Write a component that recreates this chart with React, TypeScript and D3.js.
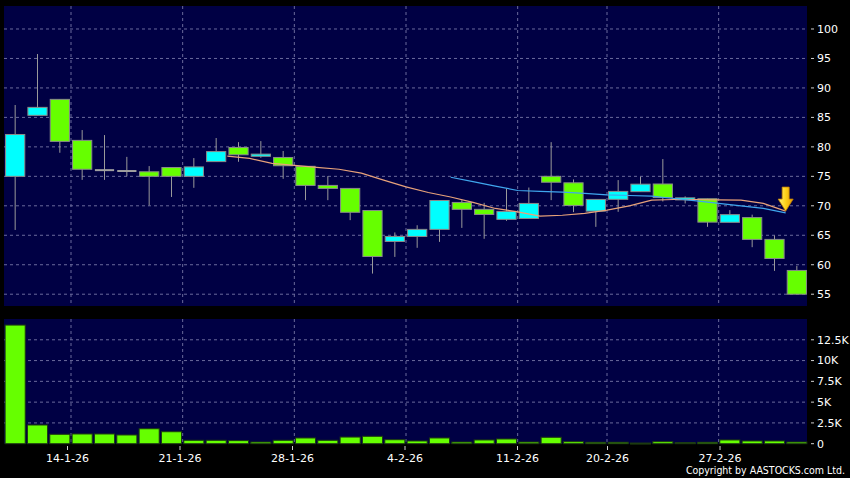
import React from "react";
import * as d3 from "d3";

const dates = ["9-1-26","12-1-26","13-1-26","14-1-26","15-1-26","16-1-26","19-1-26","20-1-26","21-1-26","22-1-26","23-1-26","26-1-26","27-1-26","28-1-26","29-1-26","30-1-26","2-2-26","3-2-26","4-2-26","5-2-26","6-2-26","9-2-26","10-2-26","11-2-26","12-2-26","13-2-26","16-2-26","20-2-26","23-2-26","24-2-26","25-2-26","26-2-26","27-2-26","2-3-26","3-3-26","4-3-26"];
const tickDates = ["14-1-26","21-1-26","28-1-26","4-2-26","11-2-26","20-2-26","27-2-26"];

const openV = [75.0, 85.35, 88.06, 81.1, 76.05, 75.9, 75.77, 76.5, 75.0, 77.5, 79.9, 78.4, 78.2, 76.7, 73.46, 72.95, 69.2, 63.95, 64.8, 66.0, 70.57, 69.4, 67.7, 67.85, 75.0, 73.9, 69.1, 71.1, 72.4, 73.7, 71.0, 71.2, 67.2, 68.0, 64.3, 59.03];
const closeV = [82.1, 86.7, 80.93, 76.2, 76.05, 75.9, 75.0, 75.0, 76.6, 79.2, 78.66, 78.77, 76.8, 73.46, 72.95, 68.9, 61.4, 64.8, 66.0, 70.9, 69.4, 68.53, 69.05, 70.4, 74.0, 70.06, 71.08, 72.44, 73.67, 71.4, 71.35, 67.23, 68.5, 64.3, 61.06, 55.0];
const highV = [87.1, 95.75, 88.06, 82.85, 82.0, 78.3, 76.74, 76.5, 78.1, 81.5, 80.8, 80.98, 79.3, 76.68, 75.04, 72.95, 69.2, 65.48, 66.7, 70.9, 70.96, 70.5, 72.95, 73.1, 80.8, 74.48, 71.08, 74.36, 74.92, 77.93, 71.6, 71.2, 69.27, 68.5, 64.96, 59.8];
const lowV = [65.9, 85.35, 79.0, 74.4, 74.4, 75.0, 70.06, 71.5, 73.05, 77.5, 77.47, 78.15, 74.58, 70.96, 70.96, 67.57, 58.5, 61.33, 62.87, 63.88, 66.25, 64.4, 67.45, 67.85, 70.96, 68.93, 66.43, 68.98, 72.4, 70.74, 70.4, 66.43, 67.2, 62.98, 58.96, 55.0];

// MA10 from index 9 to 34, MA20 from index 19 to 34
const ma10Start = 9;
const ma10 = [78.43, 78.04, 77.2, 76.86, 76.52, 76.2, 75.55, 74.36, 73.2, 72.26, 71.5, 70.57, 69.55, 68.98, 68.25, 68.4, 68.7, 69.27, 70.0, 70.96, 71.07, 71.07, 71.0, 70.96, 70.4, 69.1];
const ma20Start = 19;
const ma20 = [74.85, 74.1, 73.34, 72.6, 72.45, 72.32, 72.1, 71.87, 71.75, 71.64, 71.24, 70.84, 70.4, 70.0, 69.55, 68.8];

const volume = [14270, 2250, 1130, 1170, 1170, 1050, 1800, 1440, 410, 410, 370, 200, 410, 690, 410, 800, 890, 480, 330, 690, 200, 450, 570, 200, 770, 240, 170, 170, 80, 240, 120, 170, 450, 330, 330, 200];

const priceTicks = [55, 60, 65, 70, 75, 80, 85, 90, 95, 100];
const volTicks = [0, 2500, 5000, 7500, 10000, 12500];
const volTickLabels = ["0", "2.5K", "5K", "7.5K", "10K", "12.5K"];

const W = 850, H = 478;
const PL = 4, PR = 807;
const P1T = 6, P1B = 306;
const P2T = 319, P2B = 443.7;

const UP = "#00ffff";
const DOWN = "#66ff00";
const BG = "#000044";
const GRID = "#6a6a9c";
const FONT = "'DejaVu Sans', Verdana, sans-serif";

export default function App() {
  const x = d3.scaleBand<string>().domain(dates).range([PL, 808]).padding(0);
  const xl = d3.scaleBand<string>().domain(dates).range([0, 810]).padding(0);
  const bw = x.bandwidth();
  const cx = (i: number) => (x(dates[i]) as number) + bw / 2;
  const y = d3.scaleLinear().domain([53, 103.9]).range([P1B, P1T]);
  const yv = d3.scaleLinear().domain([0, 15000]).range([P2B, P2T]);

  const lineGen = d3.line<[number, number]>().x(d => d[0]).y(d => d[1]);
  const ma10Pts: [number, number][] = ma10.map((v, k) => [(x(dates[ma10Start + k]) as number) + bw, y(v)]);
  const ma20Pts: [number, number][] = ma20.map((v, k) => [(x(dates[ma20Start + k]) as number) + bw, y(v)]);

  const bodyW = bw * 0.86;
  const volW = bw * 0.9;

  const tip = ma10Pts[ma10Pts.length - 1];
  const tx = tip[0], ty = tip[1];
  const arrowPath = `M${tx},${ty} L${tx - 7.5},${ty - 12} L${tx - 3.5},${ty - 12} L${tx - 3.5},${ty - 24} L${tx + 3.5},${ty - 24} L${tx + 3.5},${ty - 12} L${tx + 7.5},${ty - 12} Z`;

  return (
    <svg width={W} height={H} style={{ position: "absolute", left: 0, top: 0, display: "block" }} xmlns="http://www.w3.org/2000/svg">
      <defs>
        <linearGradient id="arrowGrad" x1="0" y1="0" x2="1" y2="0">
          <stop offset="0%" stopColor="#fff27a" />
          <stop offset="50%" stopColor="#ffd21a" />
          <stop offset="100%" stopColor="#e89a00" />
        </linearGradient>
      </defs>
      <rect x={0} y={0} width={W} height={H} fill="#000" />
      {/* panels */}
      <rect x={PL} y={P1T} width={PR - PL} height={P1B - P1T} fill={BG} />
      <rect x={PL} y={P2T} width={PR - PL} height={P2B - P2T} fill={BG} />

      {/* price grid */}
      {priceTicks.map(t => (
        <line key={"pg" + t} x1={PL} x2={PR} y1={y(t)} y2={y(t)} stroke={GRID} strokeWidth={1} strokeDasharray="3,3" />
      ))}
      {volTicks.slice(1).map(t => (
        <line key={"vg" + t} x1={PL} x2={PR} y1={yv(t)} y2={yv(t)} stroke={GRID} strokeWidth={1} strokeDasharray="3,3" />
      ))}
      {tickDates.map(d => (
        <g key={"xg" + d}>
          <line x1={x(d) as number} x2={x(d) as number} y1={P1T} y2={P1B} stroke={GRID} strokeWidth={1} strokeDasharray="3,3" />
          <line x1={x(d) as number} x2={x(d) as number} y1={P2T} y2={P2B} stroke={GRID} strokeWidth={1} strokeDasharray="3,3" />
        </g>
      ))}

      {/* candles */}
      {dates.map((d, i) => {
        const o = openV[i], c = closeV[i];
        const up = c > o;
        const flat = Math.abs(c - o) < 0.01;
        const top = y(Math.max(o, c));
        const bot = y(Math.min(o, c));
        const cxi = cx(i);
        return (
          <g key={"c" + i}>
            <line x1={cxi} x2={cxi} y1={y(highV[i])} y2={y(lowV[i])} stroke="#9a9a9a" strokeWidth={1} />
            {flat ? (
              <line x1={cxi - bodyW / 2} x2={cxi + bodyW / 2} y1={top} y2={top} stroke="#a0a0a0" strokeWidth={2} />
            ) : (
              <rect x={cxi - bodyW / 2} y={top} width={bodyW} height={Math.max(1, bot - top)}
                fill={up ? UP : DOWN} stroke="#8a8a8a" strokeWidth={1} />
            )}
          </g>
        );
      })}

      {/* moving averages */}
      <path d={lineGen(ma10Pts) || ""} fill="none" stroke="#e8a27a" strokeWidth={1.2} />
      <path d={lineGen(ma20Pts) || ""} fill="none" stroke="#3fa6ee" strokeWidth={1.2} />

      {/* arrow */}
      <path d={arrowPath} fill="url(#arrowGrad)" stroke="#c98400" strokeWidth={0.8} />

      {/* volume bars */}
      {dates.map((d, i) => (
        <rect key={"v" + i} x={cx(i) - volW / 2} y={yv(volume[i])} width={volW} height={Math.max(1, P2B - yv(volume[i]))}
          fill={DOWN} stroke="#1d3a10" strokeWidth={1} />
      ))}

      {/* price axis labels */}
      {priceTicks.map(t => (
        <g key={"pl" + t}>
          <line x1={811} x2={814} y1={y(t)} y2={y(t)} stroke="#cfcfcf" strokeWidth={1} />
          <text x={817} y={y(t)} dy="0.35em" fill="#fff" fontFamily={FONT} fontSize={11}>{t}</text>
        </g>
      ))}
      {volTicks.map((t, k) => (
        <g key={"vl" + t}>
          <line x1={811} x2={814} y1={yv(t)} y2={yv(t)} stroke="#cfcfcf" strokeWidth={1} />
          <text x={817} y={yv(t)} dy="0.35em" fill="#fff" fontFamily={FONT} fontSize={11}>{volTickLabels[k]}</text>
        </g>
      ))}

      {/* date labels */}
      {tickDates.map(d => (
        <g key={"dl" + d}>
          <line x1={xl(d) as number} x2={xl(d) as number} y1={446} y2={450} stroke="#cfcfcf" strokeWidth={1} />
          <text x={xl(d) as number} y={462} textAnchor="middle" fill="#fff" fontFamily={FONT} fontSize={11}>{d}</text>
        </g>
      ))}

      <text x={845} y={474} textAnchor="end" fill="#fff" fontFamily="'DejaVu Sans Condensed', 'DejaVu Sans', sans-serif" fontSize={10.5}>Copyright by AASTOCKS.com Ltd.</text>
    </svg>
  );
}
